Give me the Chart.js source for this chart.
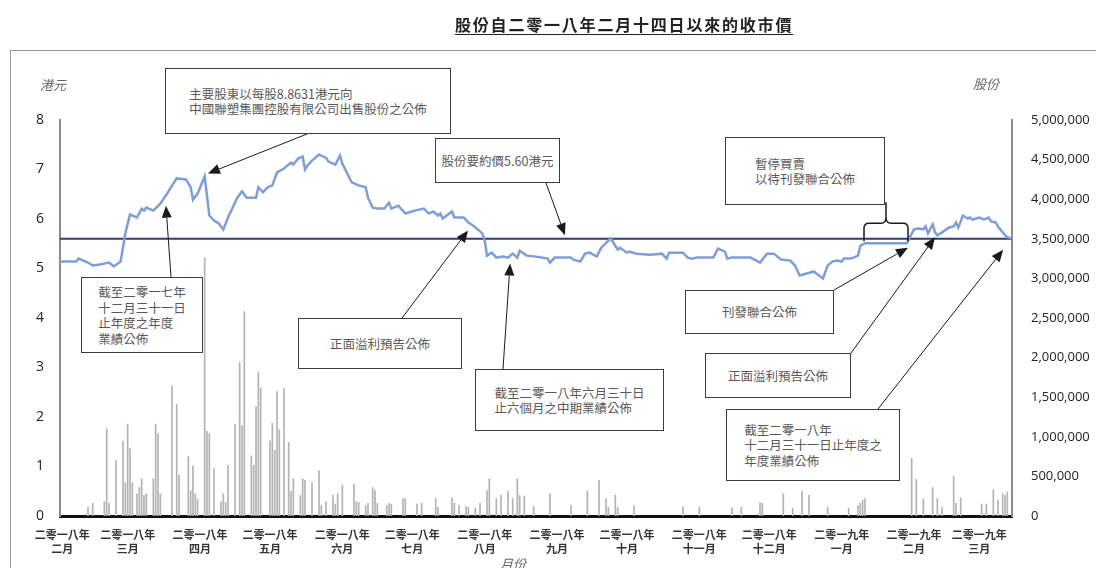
<!DOCTYPE html>
<html>
<head>
<meta charset="utf-8">
<script src="https://cdn.jsdelivr.net/npm/chart.js@4"></script>
<style>
  body { margin: 0; background: #fff; font-family: "Noto Sans CJK TC", "Noto Sans", sans-serif; }
  #wrap { position: relative; width: 1096px; height: 568px; overflow: hidden; }
  #frame { position: absolute; left: 10px; top: 50px; width: 1100px; height: 540px; border-left: 1px solid #999; border-top: 1px solid #999; }
  #title { position: absolute; left: 455px; top: 12px; font-size: 16px; font-weight: bold; letter-spacing: 1.8px; color: #222; text-decoration: underline; text-underline-offset: 3px; }
  #chartBox { position: absolute; left: 0; top: 0; width: 1096px; height: 568px; }
  .unit { position: absolute; font-size: 13px; font-style: italic; color: #666; }
  .note { position: absolute; box-sizing: border-box; border: 1.5px solid #3c3c3c; background: #fff;
          display: flex; align-items: center; justify-content: center; color: #595959; font-size: 12.5px; line-height: 15.5px; }
  .note div { white-space: pre-line; text-align: left; }
</style>
</head>
<body>
<div id="wrap">
  <div id="frame"></div>
  <div id="chartBox"><canvas id="chart"></canvas></div>
  <div id="title">股份自二零一八年二月十四日以來的收市價</div>
  <div class="unit" style="left:40px;top:75px">港元</div>
  <div class="unit" style="left:973px;top:74px">股份</div>
  <div class="unit" style="left:500px;top:554px">月份</div>

  <div class="note" style="left:165px;top:68px;width:286px;height:66px"><div>主要股東以每股8.8631港元向
中國聯塑集團控股有限公司出售股份之公佈</div></div>
  <div class="note" style="left:435px;top:138px;width:125px;height:45px"><div>股份要約價5.60港元</div></div>
  <div class="note" style="left:725px;top:137px;width:160px;height:68px"><div>暫停買賣
以待刊發聯合公佈</div></div>
  <div class="note" style="left:81px;top:277px;width:122px;height:76px"><div>截至二零一七年
十二月三十一日
止年度之年度
業績公佈</div></div>
  <div class="note" style="left:298px;top:318px;width:164px;height:51px"><div>正面溢利預告公佈</div></div>
  <div class="note" style="left:475px;top:369px;width:189px;height:62px"><div>截至二零一八年六月三十日
止六個月之中期業績公佈</div></div>
  <div class="note" style="left:685px;top:290px;width:149px;height:44px"><div>刊發聯合公佈</div></div>
  <div class="note" style="left:705px;top:353px;width:146px;height:45px"><div>正面溢利預告公佈</div></div>
  <div class="note" style="left:726px;top:409px;width:174px;height:72px"><div>截至二零一八年
十二月三十一日止年度之
年度業績公佈</div></div>
</div>

<script>
// days are counted from 14 Feb 2018
const lastDay = 408;
const offerPrice = 5.60;

const monthTickDays = [1, 29, 60, 90, 121, 151, 182, 213, 243, 274, 304, 335, 366, 394];
const monthLabels = [
  ['二零一八年', '二月'], ['二零一八年', '三月'], ['二零一八年', '四月'], ['二零一八年', '五月'],
  ['二零一八年', '六月'], ['二零一八年', '七月'], ['二零一八年', '八月'], ['二零一八年', '九月'],
  ['二零一八年', '十月'], ['二零一八年', '十一月'], ['二零一八年', '十二月'], ['二零一九年', '一月'],
  ['二零一九年', '二月'], ['二零一九年', '三月'],
];

const priceDays = [
  0, 7, 8, 12, 14, 17, 21, 23, 26, 28, 30, 33, 35, 36, 37, 40, 43, 46, 50, 54,
  56, 57, 59, 62, 64, 66, 68, 70, 72, 76, 78, 80, 84, 85, 87, 89, 91, 93, 96, 99,
  100, 102, 104, 105, 106, 108, 111, 114, 115, 118, 120, 121, 125, 128, 131, 132, 134, 136, 139, 141,
  142, 145, 148, 152, 156, 158, 160, 162, 163, 164, 168, 169, 173, 175, 177, 181, 182, 183, 185, 187,
  190, 192, 194, 196, 197, 200, 204, 209, 210, 212, 219, 220, 223, 225, 227, 230, 232, 236, 238, 239,
  240, 243, 244, 247, 253, 258, 260, 261, 267, 269, 271, 273, 280, 282, 285, 286, 288, 296, 300, 303,
  306, 309, 313, 315, 317, 320, 323, 327, 329, 331, 333, 335, 336, 339, 341, 342, 343, 345, 363, 364,
  366, 368, 370, 371, 372, 374, 375, 376, 378, 381, 383, 384, 385, 387, 389, 390, 391, 394, 396, 398,
  399, 401, 402, 404, 406, 408,
];
const priceHKD = [
  5.14, 5.14, 5.20, 5.12, 5.06, 5.08, 5.12, 5.04, 5.14, 5.71, 6.09, 6.03, 6.21, 6.17, 6.23, 6.17, 6.31, 6.52, 6.82, 6.80,
  6.64, 6.39, 6.52, 6.86, 6.07, 5.97, 5.91, 5.79, 6.03, 6.43, 6.56, 6.43, 6.43, 6.64, 6.54, 6.64, 6.68, 6.94, 7.02, 7.14,
  7.10, 7.22, 7.26, 7.00, 7.08, 7.18, 7.30, 7.24, 7.16, 7.10, 7.28, 7.12, 6.74, 6.68, 6.64, 6.43, 6.23, 6.21, 6.21, 6.33,
  6.21, 6.27, 6.11, 6.17, 6.21, 6.11, 6.15, 6.07, 6.11, 6.01, 6.15, 6.03, 6.03, 5.93, 5.87, 5.71, 5.57, 5.26, 5.32, 5.22,
  5.24, 5.22, 5.30, 5.22, 5.36, 5.26, 5.24, 5.20, 5.12, 5.22, 5.22, 5.18, 5.14, 5.30, 5.32, 5.24, 5.42, 5.61, 5.46, 5.38,
  5.42, 5.32, 5.34, 5.30, 5.28, 5.30, 5.20, 5.32, 5.32, 5.22, 5.20, 5.22, 5.22, 5.40, 5.34, 5.20, 5.22, 5.22, 5.12, 5.30,
  5.30, 5.18, 5.16, 5.06, 4.86, 4.90, 4.94, 4.80, 5.06, 5.14, 5.16, 5.14, 5.20, 5.20, 5.24, 5.26, 5.46, 5.51, 5.51, 5.61,
  5.79, 5.81, 5.79, 5.85, 5.71, 5.89, 5.73, 5.67, 5.73, 5.83, 5.85, 5.93, 5.83, 6.07, 6.01, 6.03, 5.99, 6.03, 5.99, 6.03,
  5.95, 5.93, 5.85, 5.73, 5.63, 5.61,
];

const volumeDays = [
  12, 14, 19, 20, 21, 24, 27, 28, 29, 30, 31, 33, 34, 35, 36, 37, 40, 41, 42, 43,
  48, 50, 51, 55, 56, 57, 58, 59, 62, 63, 64, 66, 69, 70, 71, 72, 75, 77, 78, 79,
  82, 83, 84, 85, 86, 90, 91, 92, 93, 94, 96, 98, 99, 100, 103, 104, 105, 108, 111, 112,
  114, 117, 118, 119, 121, 126, 127, 128, 131, 132, 134, 135, 136, 140, 141, 142, 147, 148, 153, 155,
  161, 162, 168, 169, 171, 174, 175, 178, 180, 183, 184, 187, 189, 192, 194, 196, 197, 199, 203, 210,
  219, 226, 231, 234, 235, 238, 239, 246, 267, 274, 288, 292, 300, 301, 310, 314, 318, 321, 329, 338,
  342, 343, 344, 345, 365, 367, 370, 374, 376, 378, 383, 384, 386, 395, 397, 400, 402, 404, 405, 406,
];
const volumeShares = [
  110000, 160000, 180000, 1100000, 160000, 700000, 940000, 420000, 1160000, 850000, 420000, 280000, 360000, 470000, 260000, 280000, 470000, 1160000, 1040000, 280000,
  1640000, 1410000, 520000, 750000, 320000, 630000, 280000, 210000, 3260000, 1070000, 1040000, 600000, 180000, 280000, 170000, 640000, 1160000, 1940000, 1140000, 2580000,
  760000, 640000, 1380000, 1820000, 1620000, 950000, 1170000, 830000, 1570000, 1090000, 1610000, 930000, 310000, 470000, 260000, 470000, 450000, 420000, 570000, 130000,
  180000, 260000, 150000, 280000, 390000, 400000, 180000, 170000, 130000, 160000, 360000, 320000, 160000, 130000, 160000, 150000, 220000, 220000, 150000, 160000,
  220000, 110000, 230000, 160000, 130000, 120000, 110000, 100000, 160000, 320000, 470000, 220000, 260000, 310000, 220000, 470000, 260000, 250000, 120000, 280000,
  130000, 310000, 450000, 220000, 110000, 260000, 110000, 130000, 120000, 110000, 100000, 110000, 170000, 160000, 280000, 100000, 310000, 260000, 110000, 100000,
  130000, 160000, 200000, 220000, 730000, 460000, 210000, 360000, 220000, 110000, 500000, 160000, 230000, 150000, 150000, 330000, 200000, 280000, 260000, 300000,
];

// call-outs: box edge (px) -> point on the chart (day, HKD)
const arrows = [
  { from: [307, 134], to: [63.4, 6.92] },
  { from: [546, 183], to: [216.4, 5.67] },
  { from: [171, 277], to: [45.4, 6.27] },
  { from: [402, 318], to: [174.9, 5.77] },
  { from: [503, 369], to: [192.9, 5.10] },
  { from: [834, 290], to: [363.4, 5.42] },
  { from: [851, 353], to: [375, 5.63] },
  { from: [878, 409], to: [404.2, 5.38] },
];
const haltStart = 345, haltEnd = 363, haltPrice = 5.51;

const pair = (xs, ys) => xs.map((x, i) => ({ x: x, y: ys[i] }));

const calloutPlugin = {
  id: 'callouts',
  afterDraw(chart) {
    const ctx = chart.ctx, sx = chart.scales.x, sy = chart.scales.y;
    ctx.save();
    ctx.strokeStyle = '#1a1a1a';
    ctx.fillStyle = '#1a1a1a';
    ctx.lineWidth = 1;
    arrows.forEach((a) => {
      const x0 = a.from[0], y0 = a.from[1];
      const x1 = sx.getPixelForValue(a.to[0]), y1 = sy.getPixelForValue(a.to[1]);
      const ang = Math.atan2(y1 - y0, x1 - x0);
      const len = 12, half = 5;
      const bx = x1 - len * Math.cos(ang), by = y1 - len * Math.sin(ang);
      ctx.beginPath();
      ctx.moveTo(x0, y0);
      ctx.lineTo(bx, by);
      ctx.stroke();
      ctx.beginPath();
      ctx.moveTo(x1, y1);
      ctx.lineTo(bx + half * Math.sin(ang), by - half * Math.cos(ang));
      ctx.lineTo(bx - half * Math.sin(ang), by + half * Math.cos(ang));
      ctx.closePath();
      ctx.fill();
    });
    // curly bracket over the trading halt
    const l = sx.getPixelForValue(haltStart) - 1, r = sx.getPixelForValue(haltEnd) + 1;
    const m = (l + r) / 2, base = sy.getPixelForValue(haltPrice) - 2;
    const h = base - 18, top = base - 39;
    ctx.lineWidth = 1.5;
    ctx.beginPath();
    ctx.moveTo(l, base);
    ctx.lineTo(l, h + 5);
    ctx.quadraticCurveTo(l, h, l + 5, h);
    ctx.lineTo(m - 5, h);
    ctx.quadraticCurveTo(m, h, m, h - 6);
    ctx.lineTo(m, top);
    ctx.moveTo(m, h - 6);
    ctx.quadraticCurveTo(m, h, m + 5, h);
    ctx.lineTo(r - 5, h);
    ctx.quadraticCurveTo(r, h, r, h + 5);
    ctx.lineTo(r, base);
    ctx.stroke();
    ctx.restore();
  },
};

const ctx = document.getElementById('chart').getContext('2d');
new Chart(ctx, {
  type: 'bar',
  data: {
    datasets: [
      { type: 'line', label: '收市價', data: pair(priceDays, priceHKD), yAxisID: 'y',
        borderColor: '#7f9ed8', borderWidth: 2.5, pointRadius: 0, tension: 0, order: 1 },
      { type: 'line', label: '要約價', data: [{ x: 0, y: offerPrice }, { x: lastDay, y: offerPrice }], yAxisID: 'y',
        borderColor: '#2c3d6e', borderWidth: 2, pointRadius: 0, order: 2 },
      { type: 'bar', label: '成交量', data: pair(volumeDays, volumeShares), yAxisID: 'y1',
        backgroundColor: '#b2b2b2', barThickness: 1, order: 3 },
    ],
  },
  options: {
    responsive: true,
    maintainAspectRatio: false,
    animation: false,
    layout: { padding: { top: 120, left: 0, right: 0, bottom: 0 } },
    plugins: { legend: { display: false }, tooltip: { enabled: false } },
    scales: {
      x: {
        type: 'linear', min: 0, max: lastDay, offset: false,
        grid: { display: false },
        border: { display: true, color: '#111', width: 3 },
        afterBuildTicks: (axis) => { axis.ticks = monthTickDays.map((v) => ({ value: v })); },
        afterFit: (axis) => { axis.height = 52; },
        ticks: {
          autoSkip: false, maxRotation: 0, padding: 3, color: '#333',
          font: { family: '"Noto Sans CJK TC"', size: 11, weight: 'bold', lineHeight: 1.35 },
          callback: (v, i) => monthLabels[i],
        },
      },
      y: {
        position: 'left', min: 0, max: 8,
        grid: { display: false },
        border: { display: true, color: '#8c8c8c', width: 2 },
        afterFit: (axis) => { axis.width = 60; },
        ticks: { stepSize: 1, padding: 8, color: '#222', font: { family: '"Open Sans"', size: 14 } },
      },
      y1: {
        position: 'right', min: 0, max: 5000000,
        grid: { display: false },
        border: { display: true, color: '#8c8c8c', width: 2 },
        afterFit: (axis) => { axis.width = 84; },
        ticks: {
          stepSize: 500000, padding: 11, color: '#222', font: { family: '"Open Sans"', size: 13 },
          callback: (v) => v.toLocaleString('en-US'),
        },
      },
    },
  },
  plugins: [calloutPlugin],
});
</script>
</body>
</html>
